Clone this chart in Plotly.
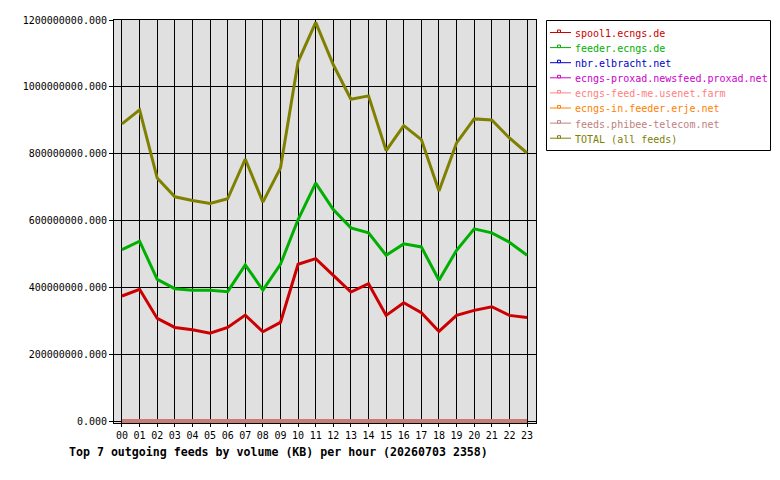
import plotly.graph_objects as go

# ---------------- data ----------------
hours = list(range(24))
hour_labels = ["00", "01", "02", "03", "04", "05", "06", "07", "08", "09", "10", "11",
               "12", "13", "14", "15", "16", "17", "18", "19", "20", "21", "22", "23"]

names = ["spool1.ecngs.de", "feeder.ecngs.de", "nbr.elbracht.net",
         "ecngs-proxad.newsfeed.proxad.net", "ecngs-feed-me.usenet.farm",
         "ecngs-in.feeder.erje.net", "feeds.phibee-telecom.net", "TOTAL (all feeds)"]
colors = ["#cc0000", "#00b000", "#0000cc", "#cc00cc", "#ff8080", "#ff8000", "#c08080", "#808000"]

spool1 = [374e6, 394e6, 307e6, 280e6, 273e6, 263e6, 280e6, 317e6, 267e6, 295e6, 469e6, 486e6,
          436e6, 386e6, 411e6, 316e6, 354e6, 324e6, 268e6, 316e6, 331e6, 342e6, 316e6, 310e6]
feeder = [513e6, 538e6, 424e6, 396e6, 391e6, 391e6, 387e6, 467e6, 392e6, 469e6, 603e6, 712e6,
          633e6, 578e6, 563e6, 496e6, 530e6, 521e6, 421e6, 511e6, 575e6, 563e6, 535e6, 496e6]
nbr = [0, 0, 0, 0, 0, 0, 0, 0, 0, 0, 0, 0, 0, 0, 0, 0, 0, 0, 0, 0, 0, 0, 0, 0]
proxad = [0, 0, 0, 0, 0, 0, 0, 0, 0, 0, 0, 0, 0, 0, 0, 0, 0, 0, 0, 0, 0, 0, 0, 0]
feedme = [0, 0, 0, 0, 0, 0, 0, 0, 0, 0, 0, 0, 0, 0, 0, 0, 0, 0, 0, 0, 0, 0, 0, 0]
erje = [0, 0, 0, 0, 0, 0, 0, 0, 0, 0, 0, 0, 0, 0, 0, 0, 0, 0, 0, 0, 0, 0, 0, 0]
phibee = [0, 0, 0, 0, 0, 0, 0, 0, 0, 0, 0, 0, 0, 0, 0, 0, 0, 0, 0, 0, 0, 0, 0, 0]
total = [889e6, 931e6, 727e6, 671e6, 660e6, 651e6, 665e6, 784e6, 655e6, 757e6, 1075e6, 1193e6,
         1066e6, 963e6, 973e6, 809e6, 884e6, 842e6, 688e6, 832e6, 904e6, 901e6, 847e6, 802e6]

series = [spool1, feeder, nbr, proxad, feedme, erje, phibee, total]
y_ticks = [0, 200e6, 400e6, 600e6, 800e6, 1000e6, 1200e6]

title_text = "Top 7 outgoing feeds by volume (KB) per hour (20260703 2358)"

# ---------------- layout geometry ----------------
W, H = 780, 480
L, R, T, B = 114, 536, 20, 423


def px(x):
    return (x - L) / (R - L)


def py(y):
    return (B - y) / (B - T)


MONO = "DejaVu Sans Mono"

fig = go.Figure()
for name, color, vals in zip(names, colors, series):
    fig.add_trace(go.Scatter(x=hours, y=vals, mode="lines", name=name,
                             line=dict(color=color, width=3), showlegend=False))

fig.update_layout(
    width=W, height=H,
    margin=dict(l=L, r=W - R, t=T, b=H - B, pad=0),
    paper_bgcolor="white", plot_bgcolor="#e0e0e0",
    font=dict(family=MONO, size=10, color="black"),
    showlegend=False,
)
fig.update_xaxes(range=[-0.454, 23.51], tickmode="array", tickvals=hours, ticktext=hour_labels,
                 showgrid=True, gridcolor="black", gridwidth=1, zeroline=False,
                 showline=True, linecolor="black", linewidth=1, mirror=True,
                 ticks="outside", ticklen=3, tickcolor="black", tickwidth=1,
                 tickfont=dict(family=MONO, size=10, color="black"))
fig.update_yaxes(range=[-6e6, 1200e6], tickmode="array", tickvals=y_ticks, tickformat=".3f",
                 showgrid=True, gridcolor="black", gridwidth=1, zeroline=False,
                 showline=True, linecolor="black", linewidth=1, mirror=True,
                 ticks="outside", ticklen=4, tickcolor="black", tickwidth=1,
                 tickfont=dict(family=MONO, size=10, color="black"))

# ---------------- legend (drawn manually) ----------------
shapes = [dict(type="rect", xref="paper", yref="paper",
               x0=px(546.5), x1=px(770.5), y0=py(20.5), y1=py(150.5),
               line=dict(color="black", width=1), fillcolor="white", layer="above")]
annotations = []
for i, (name, color) in enumerate(zip(names, colors)):
    yc = 32.5 + 15.1 * i
    shapes.append(dict(type="line", xref="paper", yref="paper",
                       x0=px(550), x1=px(571), y0=py(yc), y1=py(yc),
                       line=dict(color=color, width=1), layer="above"))
    shapes.append(dict(type="rect", xref="paper", yref="paper",
                       x0=px(557.5), x1=px(560.5), y0=py(yc - 2.5), y1=py(yc),
                       line=dict(color=color, width=1), fillcolor="white", layer="above"))
    annotations.append(dict(xref="paper", yref="paper", x=px(573), y=py(yc + 1),
                            xanchor="left", yanchor="middle", showarrow=False,
                            text=name, font=dict(family=MONO, size=10, color=color)))

annotations.append(dict(xref="paper", yref="paper", x=px(67), y=py(452),
                        xanchor="left", yanchor="middle", showarrow=False,
                        text="<b>" + title_text + "</b>",
                        font=dict(family=MONO, size=11.6, color="black")))

fig.update_layout(shapes=shapes, annotations=annotations)

fig.write_html("out.html")
